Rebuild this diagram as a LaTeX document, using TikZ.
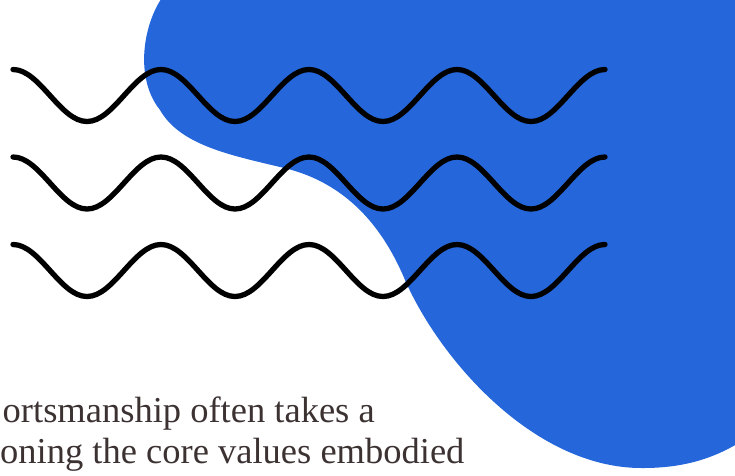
\documentclass[tikz,border=0pt]{standalone}
\usepackage{fontspec}
\setmainfont{Liberation Serif}
\definecolor{blobblue}{RGB}{37,103,219}
\definecolor{textbrown}{RGB}{60,50,50}
\tikzset{
  wave/.style={line width=5.3pt, line cap=round, line join=round, draw=black},
  bodytext/.style={anchor=base west, inner sep=0pt, text=textbrown, font=\fontsize{36.5}{41}\selectfont}
}
\begin{document}
\begin{tikzpicture}[x=1pt,y=-1pt]
\useasboundingbox (0,0) rectangle (735,475);
\begin{scope}
\clip (0,0) rectangle (735,475);
\fill[blobblue] (168,-10)
  .. controls (145,15) and (132,75) .. (160,110)
  .. controls (180,145) and (230,155) .. (280,167)
  .. controls (340,180) and (380,220) .. (405,280)
  .. controls (440,360) and (535,469) .. (643,468)
  .. controls (685,468) and (720,458) .. (755,432)
  -- (760,-20) -- cycle;
\foreach \yy in {69.5,157,244.5}{
  \draw[wave] (13,\yy)
    cos ++(37,26) sin ++(37,26) cos ++(37,-26) sin ++(37,-26)
    cos ++(37,26) sin ++(37,26) cos ++(37,-26) sin ++(37,-26)
    cos ++(37,26) sin ++(37,26) cos ++(37,-26) sin ++(37,-26)
    cos ++(37,26) sin ++(37,26) cos ++(37,-26) sin ++(37,-26);
}
\node[bodytext] (line1) at (2.5,422) {ortsmanship often takes a};
\node[bodytext] (line2) at (0,463) {oning the core values embodied};
\end{scope}
\end{tikzpicture}
\end{document}
